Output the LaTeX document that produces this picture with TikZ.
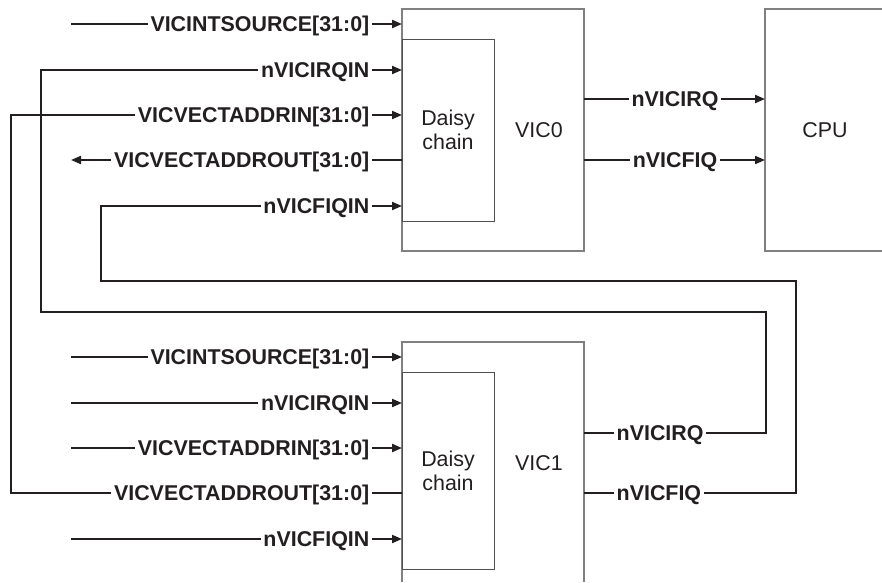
\documentclass[tikz,border=0pt]{standalone}
\usepackage{fontspec}
\setsansfont{Liberation Sans}
\usepackage{xcolor}
\usepackage[]{tikz}
\usetikzlibrary{positioning,calc,arrows.meta}
\definecolor{inkDark}{HTML}{231F20}
\definecolor{boxGray}{HTML}{808080}
\definecolor{chainGray}{HTML}{505050}
\tikzstyle{sigLbl}  =[font=\sffamily\bfseries\fontsize{21.4}{24}\selectfont, text=inkDark, inner sep=2.5pt, text height=15pt, text depth=0pt]
\tikzstyle{sigIn}   =[sigLbl, anchor=east]
\tikzstyle{sigOut}  =[sigLbl, anchor=west]
\tikzstyle{plainTxt}=[font=\sffamily\fontsize{21.4}{24}\selectfont, text=inkDark, align=center]
\tikzstyle{vicBox}  =[rectangle, draw=none, minimum width=182pt, inner sep=0pt, outer sep=0pt]
\tikzstyle{chainBox}=[rectangle, draw=chainGray, line width=1pt, minimum width=92pt, inner sep=0pt, outer sep=0pt, anchor=north west, font=\sffamily\fontsize{21.4}{24}\selectfont, text=inkDark, align=center]
\tikzstyle{boxLine} =[draw=boxGray, line width=1.2pt]
\tikzstyle{wire}    =[draw=inkDark, line width=2pt]
\tikzstyle{wireArr} =[wire, -{Triangle[length=10pt,width=8pt]}]

\begin{document}
\begin{tikzpicture}[x=1pt,y=-1pt]
        \useasboundingbox[fill=white] (0,0) rectangle (882,582);
        % VIC0 and CPU
        \node[vicBox, boxLine, minimum height=242pt] (vicA) [] at (493,130) {};
        \node[chainBox, minimum height=182pt] (dcA) [] at (402,39) {Daisy\\chain};
        \node[plainTxt] (vicAname) [] at (539,130) {VIC0};
        \node[rectangle, draw=none, minimum width=117pt, minimum height=242pt, inner sep=0pt, outer sep=0pt] (cpu) [] at (823.5,130) {};
        \draw[boxLine] (cpu.north east) -- (cpu.north west) -- (cpu.south west) -- (cpu.south east);
        \node[plainTxt] (cpuName) [] at (825,130) {CPU};
        % VIC1
        \node[vicBox, minimum height=240pt] (vicB) [] at (493,462) {};
        \draw[boxLine] (vicB.south west) -- (vicB.north west) -- (vicB.north east) -- (vicB.south east);
        \node[chainBox, minimum height=197pt] (dcB) [] at (402,372) {Daisy\\chain};
        \node[plainTxt] (vicBname) [] at (539,463) {VIC1};
        % VIC0 signals
        \node[sigIn] (isrcA) [] at (372,24) {VICINTSOURCE[31:0]};
        \node[sigIn] (irqinA) [] at (372,70) {nVICIRQIN};
        \node[sigIn] (vinA) [] at (372,115) {VICVECTADDRIN[31:0]};
        \node[sigIn] (voutA) [] at (372,160) {VICVECTADDROUT[31:0]};
        \node[sigIn] (fiqinA) [] at (372,206) {nVICFIQIN};
        \node[sigLbl] (irqA) [] at (675,99) {nVICIRQ};
        \node[sigLbl] (fiqA) [] at (675,160) {nVICFIQ};
        % VIC1 signals
        \node[sigIn] (isrcB) [] at (372,357) {VICINTSOURCE[31:0]};
        \node[sigIn] (irqinB) [] at (372,403) {nVICIRQIN};
        \node[sigIn] (vinB) [] at (372,448) {VICVECTADDRIN[31:0]};
        \node[sigIn] (voutB) [] at (372,493) {VICVECTADDROUT[31:0]};
        \node[sigIn] (fiqinB) [] at (372,539) {nVICFIQIN};
        \node[sigOut] (irqB) [] at (614,433) {nVICIRQ};
        \node[sigOut] (fiqB) [] at (614,493) {nVICFIQ};
        % free ends and turns
        \coordinate (isrcAsrc) at (71,24);
        \coordinate (voutAdst) at (71,160);
        \coordinate (isrcBsrc) at (71,357);
        \coordinate (irqinBsrc) at (71,403);
        \coordinate (vinBsrc) at (71,448);
        \coordinate (fiqinBsrc) at (71,539);
        \coordinate (irqTurnR) at (766,312);
        \coordinate (irqTurnL) at (41,70);
        \coordinate (fiqTurnR) at (796,281);
        \coordinate (fiqTurnL) at (101,206);
        \coordinate (vaddrTurn) at (11,115);
        % VIC0 wires
        \draw[wire] (isrcAsrc) -- (isrcA);
        \draw[wireArr] (isrcA) -- (isrcA -| vicA.west);
        \draw[wireArr] (irqinA) -- (irqinA -| vicA.west);
        \draw[wireArr] (vinA) -- (vinA -| vicA.west);
        \draw[wire] (voutA -| vicA.west) -- (voutA);
        \draw[wireArr] (voutA) -- (voutAdst);
        \draw[wireArr] (fiqinA) -- (fiqinA -| vicA.west);
        \draw[wire] (irqA -| vicA.east) -- (irqA);
        \draw[wireArr] (irqA) -- (irqA -| cpu.west);
        \draw[wire] (fiqA -| vicA.east) -- (fiqA);
        \draw[wireArr] (fiqA) -- (fiqA -| cpu.west);
        % VIC1 wires
        \draw[wire] (isrcBsrc) -- (isrcB);
        \draw[wireArr] (isrcB) -- (isrcB -| vicB.west);
        \draw[wire] (irqinBsrc) -- (irqinB);
        \draw[wireArr] (irqinB) -- (irqinB -| vicB.west);
        \draw[wire] (vinBsrc) -- (vinB);
        \draw[wireArr] (vinB) -- (vinB -| vicB.west);
        \draw[wire] (voutB -| vicB.west) -- (voutB);
        \draw[wire] (fiqinBsrc) -- (fiqinB);
        \draw[wireArr] (fiqinB) -- (fiqinB -| vicB.west);
        \draw[wire] (irqB -| vicB.east) -- (irqB);
        \draw[wire] (fiqB -| vicB.east) -- (fiqB);
        % daisy chain loops
        \draw[wire] (irqB.east) -| (irqTurnR) -| (irqTurnL) -- (irqinA.west);
        \draw[wire] (fiqB.east) -| (fiqTurnR) -| (fiqTurnL) -- (fiqinA.west);
        \draw[wire] (voutB.west) -| (vaddrTurn) -- (vinA.west);
      \end{tikzpicture}
\end{document}
